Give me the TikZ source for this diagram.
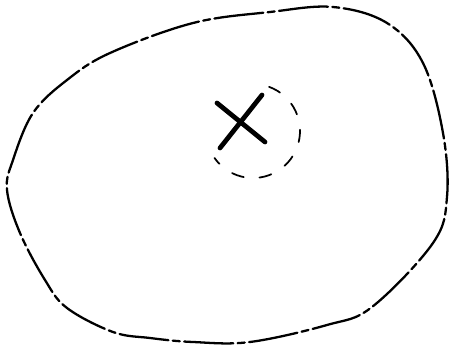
\documentclass[tikz,border=0pt]{standalone}
\usepackage{tikz}

\begin{document}
\begin{tikzpicture}[
  x=0.02cm, y=-0.02cm,
  outline/.style={
    draw=black, line width=1.3pt, line cap=round,
    dash pattern=on 28pt off 2.5pt on 4pt off 2.5pt
  },
  ring/.style={
    draw=black, line width=1pt, line cap=round,
    dash pattern=on 7pt off 9pt
  },
  cross/.style={draw=black, line width=2.7pt, line cap=round}
]

\useasboundingbox (0,0) rectangle (451,349);

% big closed loop
\draw[outline] plot[smooth cycle, tension=0.6] coordinates {
  (7,190) (13,160) (33,113) (67,80) (110,53) (193,23) (270,12)
  (333,7) (387,23) (423,63) (443,133) (447,197) (433,243)
  (372,307) (327,325) (250,342) (193,342) (150,338) (113,332)
  (67,308) (45,280) (20,233)
};

% small dotted ring round the mark
\coordinate (mark) at (242,123);
\draw[ring] (253,131) ++(-70:47) arc[start angle=-70, end angle=145, radius=47];

% the cross
\draw[cross] (217,103) -- (265,142);
\draw[cross] (262,95) -- (220,148);

\end{tikzpicture}
\end{document}
